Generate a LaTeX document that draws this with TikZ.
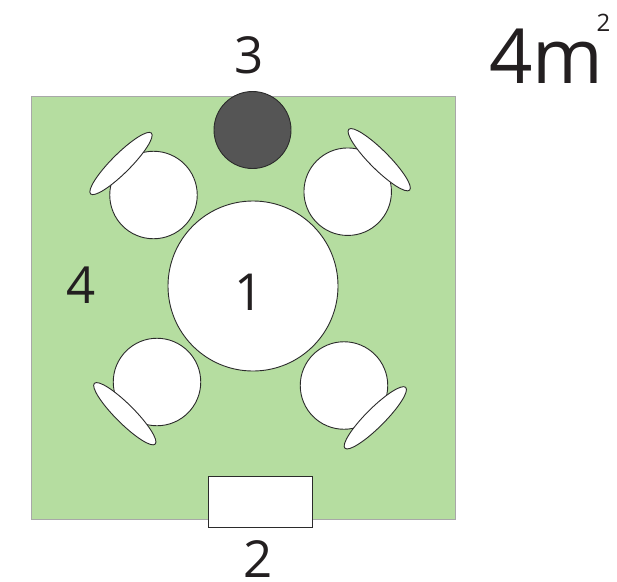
\documentclass[tikz,border=0pt]{standalone}
\usepackage{fontspec}
\setmainfont{Open Sans}
\usetikzlibrary{shapes.geometric}
\definecolor{roomgreen}{HTML}{B5DDA0}
\definecolor{darkstool}{HTML}{555555}
\definecolor{inkline}{HTML}{2B2B2B}
\definecolor{roomedge}{HTML}{A8A8A8}
\definecolor{labelink}{HTML}{231F20}
\tikzset{
  x=1pt,y=-1pt,
  roomshape/.style={draw=roomedge,line width=1pt,fill=roomgreen,rectangle,inner sep=0pt,minimum width=424pt,minimum height=423pt},
  tableshape/.style={draw=inkline,line width=0.9pt,fill=white,circle,inner sep=0pt,minimum size=170pt},
  stoolshape/.style={draw=inkline,line width=0.9pt,fill=darkstool,circle,inner sep=0pt,minimum size=77pt},
  seatshape/.style={draw=inkline,line width=0.9pt,fill=white,circle,inner sep=0pt,minimum size=87.5pt},
  backshape/.style={draw=inkline,line width=0.9pt,fill=white,ellipse,inner sep=0pt,minimum width=86pt,minimum height=19pt},
  doorshape/.style={draw=inkline,line width=0.9pt,fill=white,rectangle,inner sep=0pt,minimum width=104pt,minimum height=51pt},
  biglabel/.style={text=labelink,font=\fontsize{51}{51}\selectfont,inner sep=0pt,anchor=base},
}
\begin{document}
\begin{tikzpicture}
\useasboundingbox (0,0) rectangle (617,581);
\node[roomshape] (room) at (243,307.5) {};
\node[stoolshape] (stool) at (252.5,130) {};
\node[tableshape] (table) at (253,286) {};
\node[seatshape] (seatTL) at (153.5,195) {};
\node[seatshape] (seatTR) at (347.7,191.7) {};
\node[seatshape] (seatBL) at (157,382) {};
\node[seatshape] (seatBR) at (344,385.5) {};
\node[backshape,rotate=45] (backTL) at (121,163.5) {};
\node[backshape,rotate=-45] (backTR) at (379.2,159.7) {};
\node[backshape,rotate=-45] (backBL) at (124.8,413.7) {};
\node[backshape,rotate=45] (backBR) at (375.3,417.8) {};
\node[doorshape] (door) at (260.3,501.5) {};
\node[biglabel] (lone) at (249.5,310) {1};
\node[biglabel] (ltwo) at (258,577) {2};
\node[biglabel] (lthree) at (249,73) {3};
\node[biglabel] (lfour) at (81,303) {4};
\node[text=labelink,font=\fontsize{76}{76}\selectfont,inner sep=0pt,anchor=base] (area) at (546.5,83) {4m};
\node[text=labelink,font=\fontsize{24}{24}\selectfont,inner sep=0pt,anchor=base] (sup) at (603.5,31) {2};
\end{tikzpicture}
\end{document}
